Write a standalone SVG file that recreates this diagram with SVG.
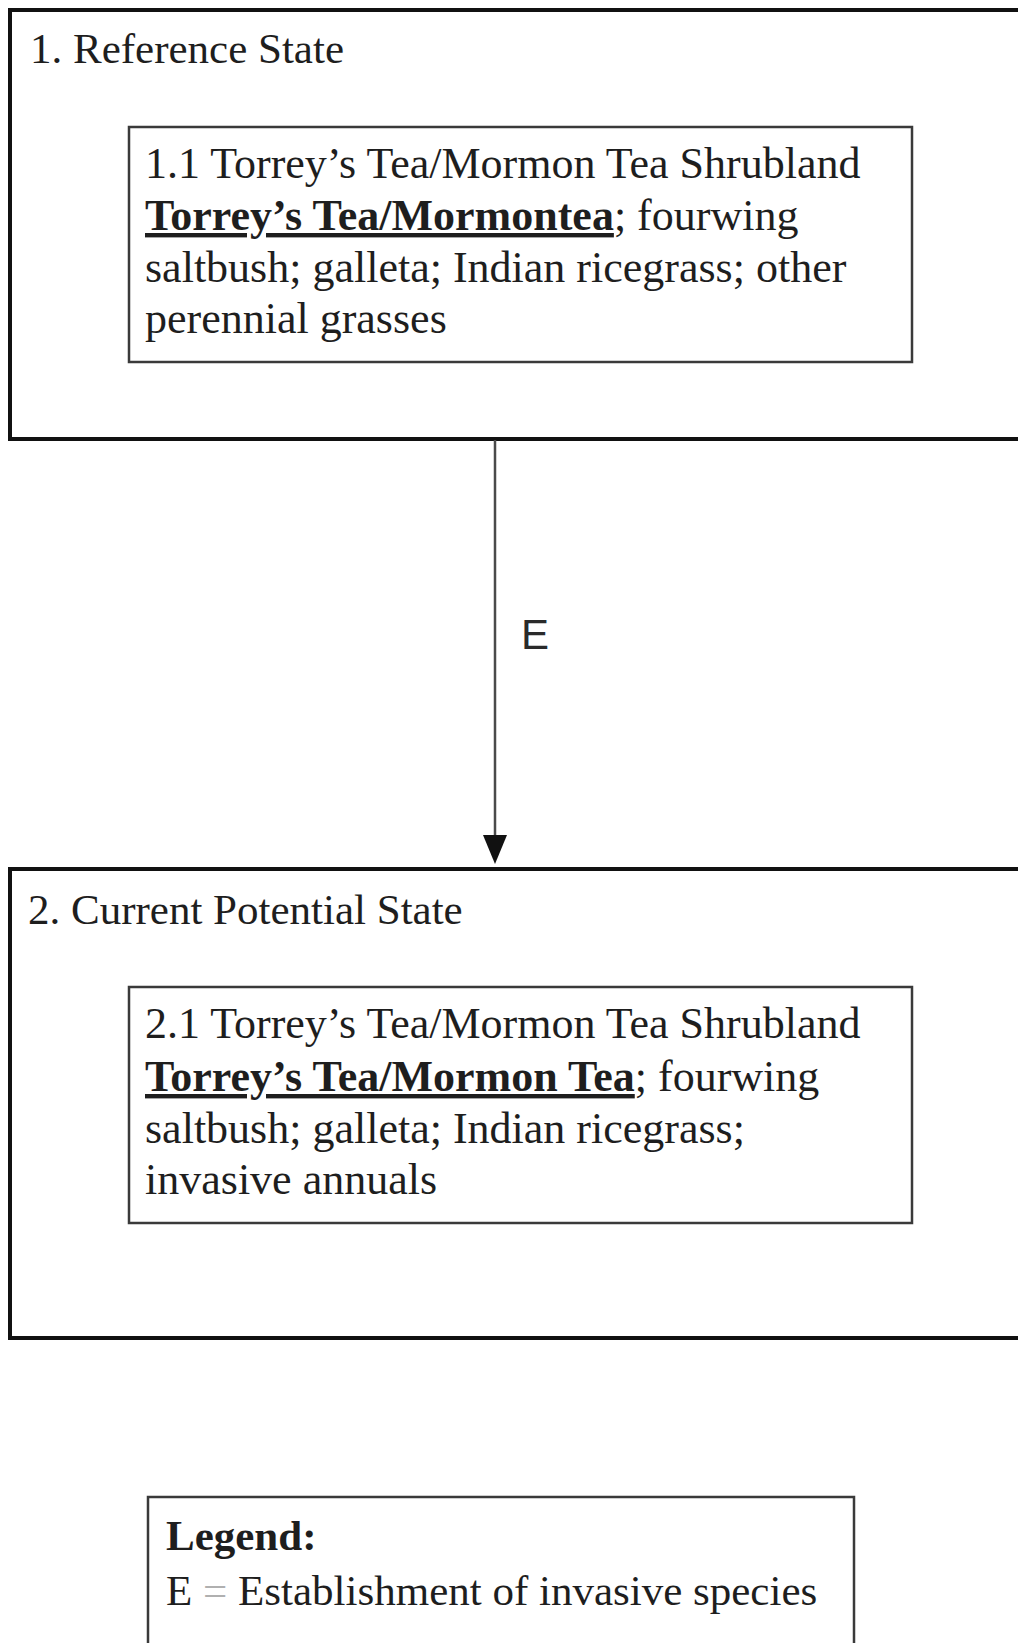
<svg xmlns="http://www.w3.org/2000/svg" width="1018" height="1643" viewBox="0 0 1018 1643">
  <style>
    .bg { fill: #ffffff; }
    .state { fill: none; stroke: #111111; stroke-width: 4; }
    .community { fill: none; stroke: #3a3a3a; stroke-width: 2.5; }
    .legendbox { fill: none; stroke: #3a3a3a; stroke-width: 2.5; }
    .t { font-family: "Liberation Serif", "Times New Roman", serif; font-size: 43px; fill: #1e1e1e; }
    .c { font-size: 44px; }
    .b { font-weight: bold; }
    .u { text-decoration: underline; }
    .edge { stroke: #4a4a4a; stroke-width: 2.5; fill: none; }
    .elabel { font-family: "Liberation Sans", Arial, sans-serif; font-size: 42px; fill: #2a2a2a; }
  </style>
  <rect class="bg" x="0" y="0" width="1018" height="1643"/>

  <g id="state1">
    <rect class="state" x="10" y="10" width="1030" height="429"/>
    <text class="t" x="30" y="63">1. Reference State</text>
  </g>
  <g id="community1_1">
    <rect class="community" x="129" y="127" width="783" height="235"/>
    <text class="t c" x="145" y="178">1.1 Torrey’s Tea/Mormon Tea Shrubland</text>
    <text class="t c" x="145" y="230"><tspan class="b u">Torrey’s Tea/Mormontea</tspan>; fourwing</text>
    <text class="t c" x="145" y="282">saltbush; galleta; Indian ricegrass; other</text>
    <text class="t c" x="145" y="333">perennial grasses</text>
  </g>

  <g id="state2">
    <rect class="state" x="10" y="869" width="1030" height="469"/>
    <text class="t" x="28" y="924">2. Current Potential State</text>
  </g>
  <g id="community2_1">
    <rect class="community" x="129" y="987" width="783" height="236"/>
    <text class="t c" x="145" y="1038">2.1 Torrey’s Tea/Mormon Tea Shrubland</text>
    <text class="t c" x="145" y="1091"><tspan class="b u">Torrey’s Tea/Mormon Tea</tspan>; fourwing</text>
    <text class="t c" x="145" y="1143">saltbush; galleta; Indian ricegrass;</text>
    <text class="t c" x="145" y="1194">invasive annuals</text>
  </g>

  <g id="connectors">
    <line class="edge" x1="495" y1="440" x2="495" y2="840"/>
    <path d="M483,835 L507,835 L495,864 Z" fill="#111111"/>
    <text class="elabel" x="521" y="649">E</text>
  </g>

  <g id="legend">
    <rect class="legendbox" x="148" y="1497" width="706" height="170"/>
    <text class="t b" x="166" y="1550">Legend:</text>
    <text class="t" x="166" y="1605">E <tspan fill="#b0b0b0">=</tspan> Establishment of invasive species</text>
  </g>
</svg>
